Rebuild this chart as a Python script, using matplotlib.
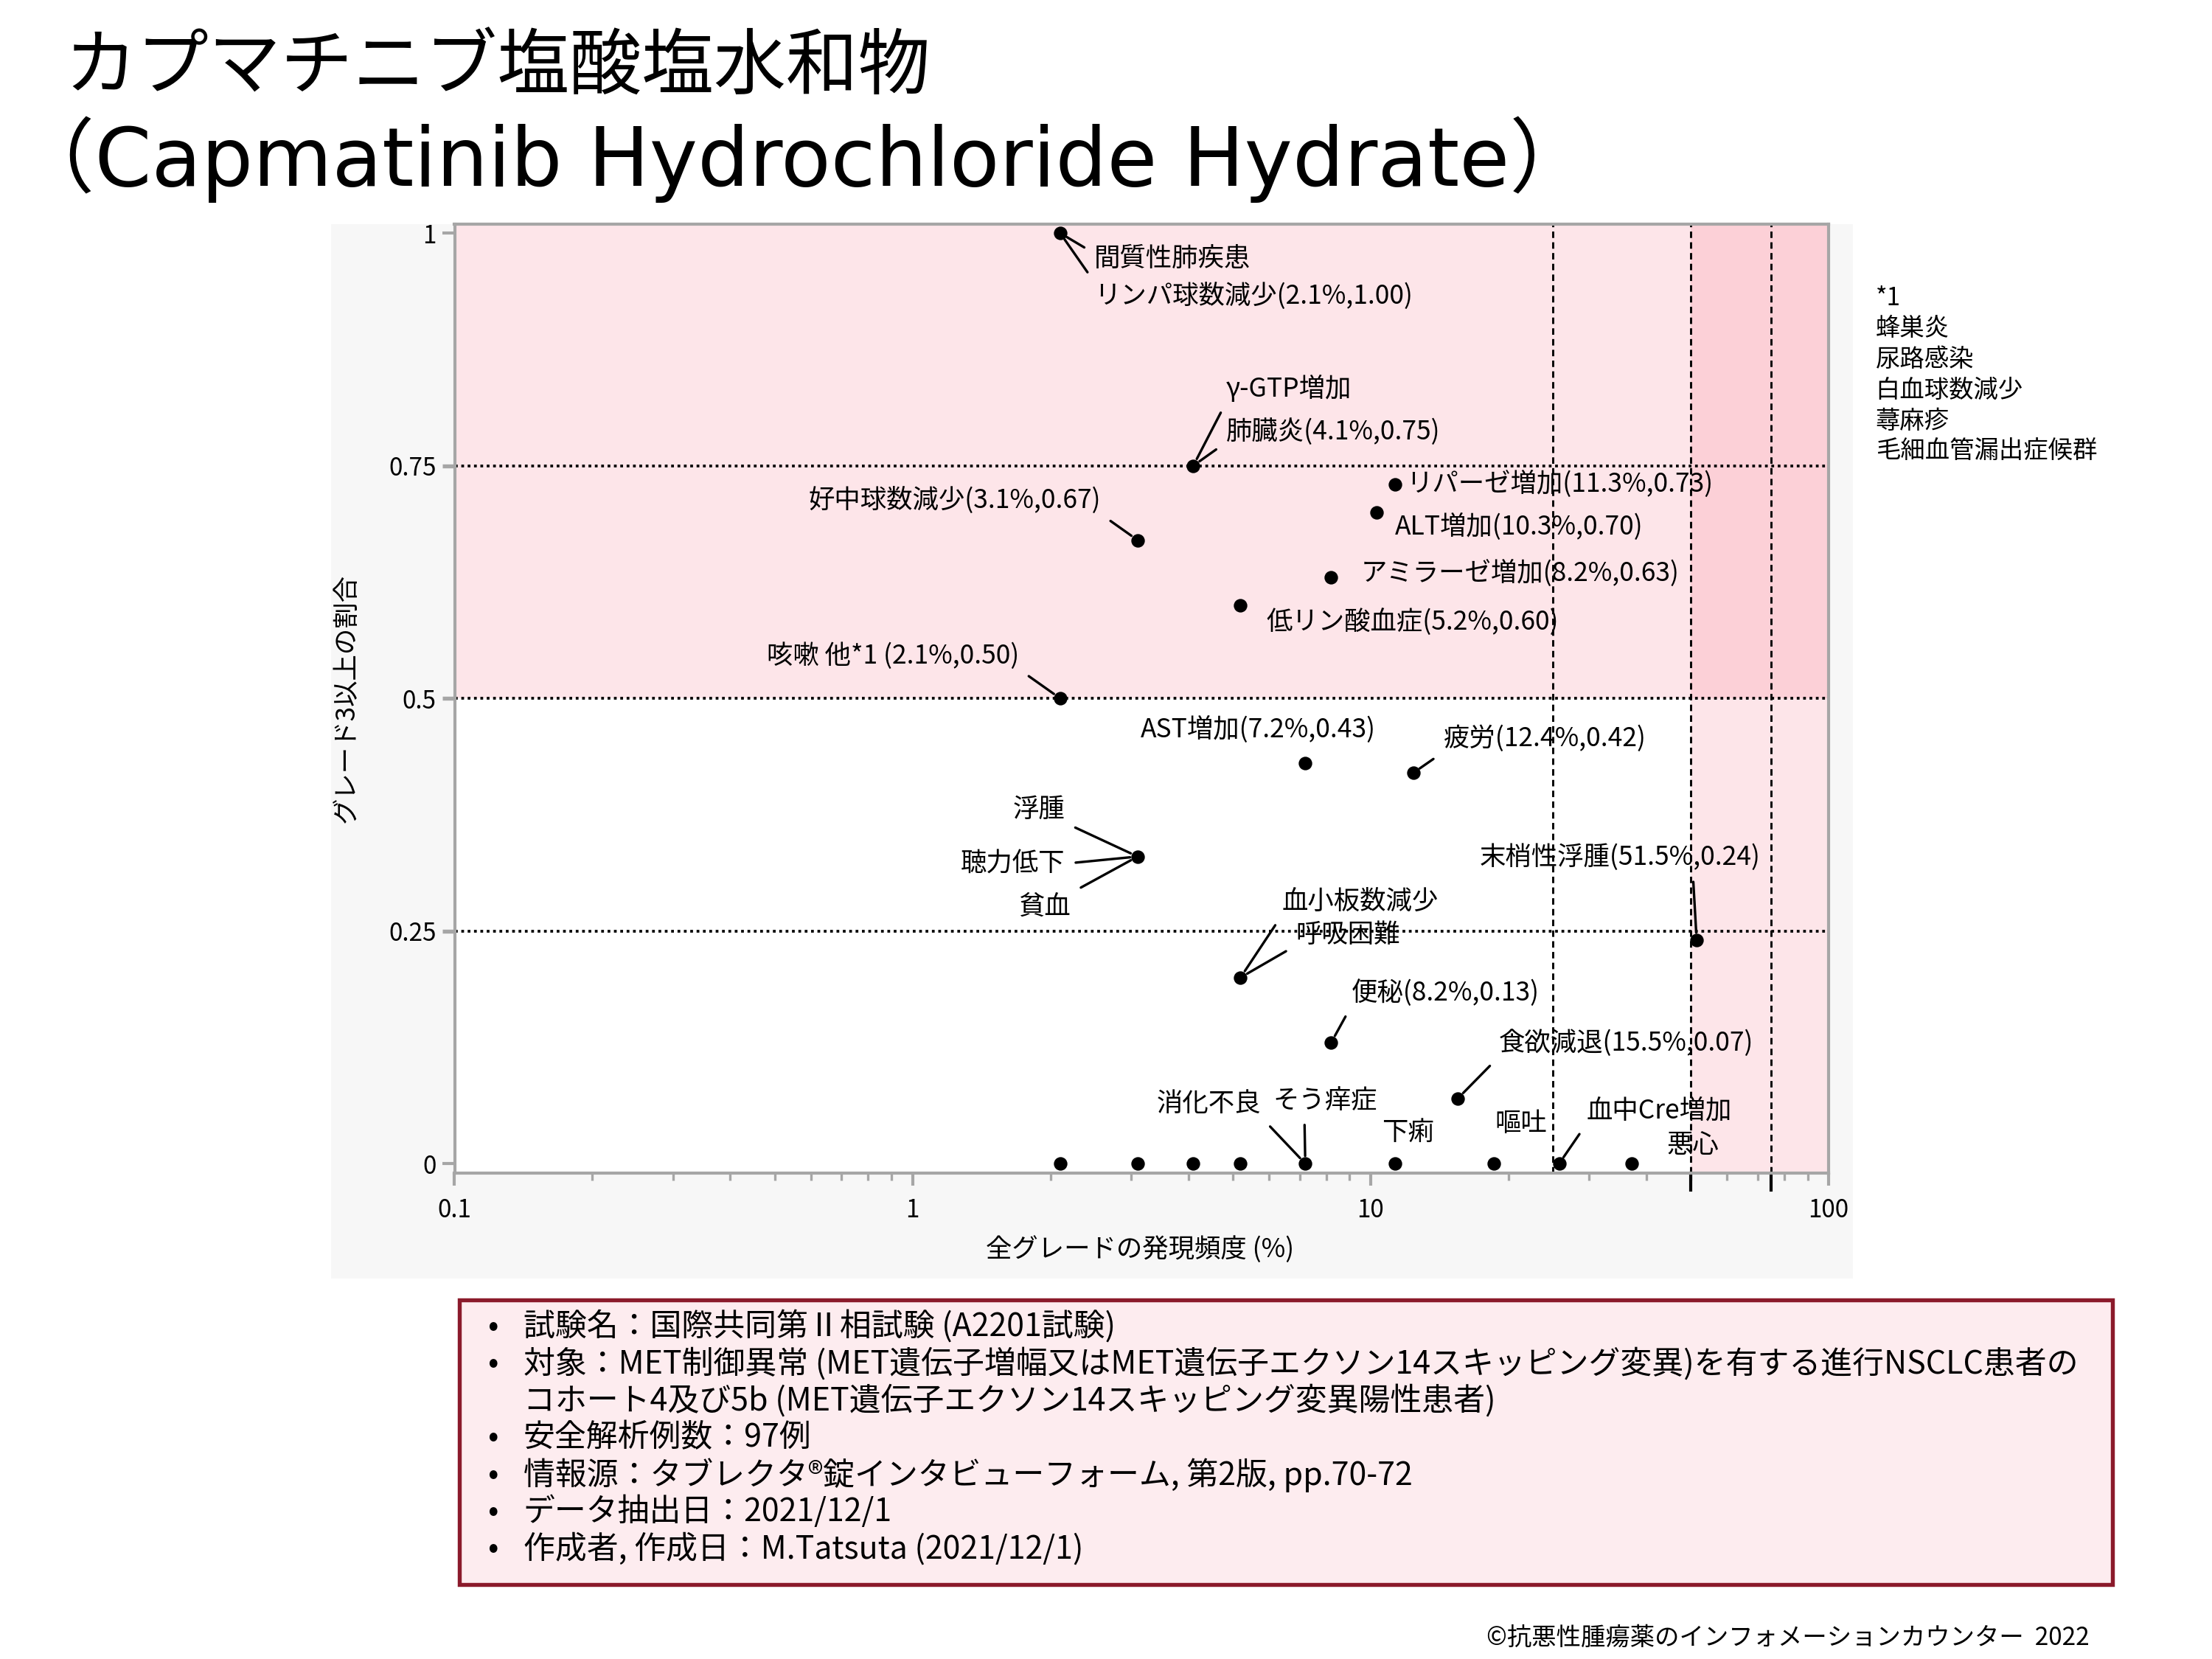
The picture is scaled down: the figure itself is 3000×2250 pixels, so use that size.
import numpy as np
import matplotlib
matplotlib.use("Agg")
import matplotlib.pyplot as plt
from matplotlib.patches import Rectangle
from matplotlib.ticker import FixedLocator, NullFormatter

plt.rcParams['font.family'] = ['Noto Sans CJK JP', 'DejaVu Sans']

# all-grade incidence (%) and share of grade>=3 for every plotted point
pct = [2.1, 4.1, 11.3, 10.3, 3.1, 8.2, 5.2, 2.1, 7.2, 12.4, 3.1, 51.5, 5.2, 8.2, 15.5,
       2.1, 3.1, 4.1, 5.2, 7.2, 11.3, 18.6, 25.8, 37.1]
ratio = [1.00, 0.75, 0.73, 0.70, 0.67, 0.63, 0.60, 0.50, 0.43, 0.42, 0.33, 0.24, 0.20, 0.13, 0.07,
         0, 0, 0, 0, 0, 0, 0, 0, 0]

# label text, point (pct, ratio), offset right/down in screen px, alignment, leader line anchor
labels = [
    ("間質性肺疾患", 2.1, 1.00, 24, 18, "left", (0, 0.7)),
    ("リンパ球数減少(2.1%,1.00)", 2.1, 1.00, 24, 44, "left", (0, 1)),
    ("γ-GTP増加", 4.1, 0.75, 23, -54, "left", (0, 0)),
    ("肺臓炎(4.1%,0.75)", 4.1, 0.75, 23, -24, "left", (0, 0.1)),
    ("リパーゼ増加(11.3%,0.73)", 11.3, 0.73, 8, 0, "left", None),
    ("ALT増加(10.3%,0.70)", 10.3, 0.70, 13, 10, "left", None),
    ("好中球数減少(3.1%,0.67)", 3.1, 0.67, -26, -28, "right", (1, 0)),
    ("アミラーゼ増加(8.2%,0.63)", 8.2, 0.63, 21, -3, "left", None),
    ("低リン酸血症(5.2%,0.60)", 5.2, 0.60, 18, 12, "left", None),
    ("咳嗽 他*1 (2.1%,0.50)", 2.1, 0.50, -29, -30, "right", (1, 0)),
    ("AST増加(7.2%,0.43)", 7.2, 0.43, -33, -24, "center", None),
    ("疲労(12.4%,0.42)", 12.4, 0.42, 21, -24, "left", (0, 0)),
    ("浮腫", 3.1, 0.33, -51, -33, "right", (1, 0)),
    ("聴力低下", 3.1, 0.33, -51, 5, "right", (1, 0.5)),
    ("貧血", 3.1, 0.33, -47, 35, "right", (1, 1)),
    ("末梢性浮腫(51.5%,0.24)", 51.5, 0.24, -54, -58, "center", (0.76, 0)),
    ("血小板数減少", 5.2, 0.20, 29, -53, "left", (0, 0)),
    ("呼吸困難", 5.2, 0.20, 39, -30, "left", (0, 0.1)),
    ("便秘(8.2%,0.13)", 8.2, 0.13, 14, -35, "left", (0, 0)),
    ("食欲減退(15.5%,0.07)", 15.5, 0.07, 29, -39, "left", (0, 0)),
    ("消化不良", 7.2, 0, -31, -42, "right", (1, 0)),
    ("そう痒症", 7.2, 0, 14, -44, "center", (0.3, 0)),
    ("下痢", 11.3, 0, 9, -22, "center", None),
    ("嘔吐", 18.6, 0, 19, -28, "center", None),
    ("血中Cre増加", 25.8, 0, 19, -37, "left", (0, 0)),
    ("悪心", 37.1, 0, 43, -13, "center", None),
]

note_lines = ["*1", "蜂巣炎", "尿路感染", "白血球数減少", "蕁麻疹", "毛細血管漏出症候群"]

info_lines = [
    "試験名：国際共同第Ⅱ相試験 (A2201試験)",
    "対象：MET制御異常 (MET遺伝子増幅又はMET遺伝子エクソン14スキッピング変異)を有する進行NSCLC患者の",
    "コホート4及び5b (MET遺伝子エクソン14スキッピング変異陽性患者)",
    "安全解析例数：97例",
    "情報源：タブレクタ®錠インタビューフォーム, 第2版, pp.70-72",
    "データ抽出日：2021/12/1",
    "作成者, 作成日：M.Tatsuta (2021/12/1)",
]
info_bullets = [True, True, False, True, True, True, True]

x_refs = [25, 50, 75]
y_refs = [0.25, 0.5, 0.75]

PX = (3000 / 1552) * 72 / 300  # screen px of the reference -> points

fig = plt.figure(figsize=(10, 7.5), dpi=300)
fig.patches.append(Rectangle((0.1495, 0.2294), 0.6881, 0.6357, transform=fig.transFigure,
                             facecolor='#f7f7f7', edgecolor='none', zorder=-5))

ax = fig.add_axes([0.2055, 0.2930, 0.6212, 0.5721])
ax.set_xscale('log')
ax.set_xlim(0.1, 100)
ylo, yhi = -0.01, 1.01
ax.set_ylim(ylo, yhi)

light = '#fde5e9'
dark = '#fcd0d7'
ax.axhspan(0.5, yhi, color=light, zorder=0, lw=0)
ax.axvspan(50, 100, color=light, zorder=0, lw=0)
ax.axvspan(50, 100, ymin=(0.5 - ylo) / (yhi - ylo), ymax=1, color=dark, zorder=0.5, lw=0)

for v in y_refs:
    ax.axhline(v, color='black', lw=0.9, ls=(0, (1, 1.3)), zorder=1)
for v in x_refs:
    ax.axvline(v, color='black', lw=0.7, ls=(0, (3, 2)), zorder=1)
for v in x_refs[1:]:
    ax.plot([v, v], [-0.018, 0], transform=ax.get_xaxis_transform(), clip_on=False,
            color='black', lw=1.0)

ax.plot(pct, ratio, 'o', color='black', markersize=3.4, zorder=3, clip_on=False)

for text, x, y, dx, dy, ha, rel in labels:
    kw = {}
    if rel is not None:
        kw['arrowprops'] = dict(arrowstyle='-', color='black', lw=0.8, shrinkA=1.5, shrinkB=2.5,
                                relpos=rel)
    ax.annotate(text, xy=(x, y), xytext=(dx * PX, -dy * PX), textcoords='offset points',
                ha=ha, va='center', fontsize=8.5, zorder=4, **kw)

for s in ax.spines.values():
    s.set_color('#a6a6a6')
    s.set_linewidth(1.0)

ax.set_xticks([0.1, 1, 10, 100])
ax.set_xticklabels(['0.1', '1', '10', '100'])
ax.xaxis.set_minor_locator(FixedLocator([m * 10.0 ** e for e in (-1, 0, 1) for m in range(2, 10)]))
ax.xaxis.set_minor_formatter(NullFormatter())
ax.set_yticks([0, 0.25, 0.5, 0.75, 1])
ax.set_yticklabels(['0', '0.25', '0.5', '0.75', '1'])
ax.tick_params(axis='x', which='major', length=4, width=1, color='#a6a6a6', pad=4, labelsize=8)
ax.tick_params(axis='x', which='minor', length=2.5, width=0.8, color='#a6a6a6')
ax.tick_params(axis='y', length=4, width=1, color='#a6a6a6', pad=2, labelsize=8)
for t, v in zip(ax.yaxis.get_major_ticks(), [0, 0.25, 0.5, 0.75, 1]):
    if v in y_refs:
        t.tick1line.set_color('black')
        t.tick1line.set_markeredgewidth(1.3)

ax.set_xlabel('全グレードの発現頻度 (%)', fontsize=8.5)
ax.set_ylabel('グレード3以上の割合', fontsize=8.5)
ax.xaxis.set_label_coords(0.499, -0.066)
ax.yaxis.set_label_coords(-0.069, 0.5)

fig.text(0.029, 0.9588, 'カプマチニブ塩酸塩水和物', fontsize=23.5, va='center', ha='left')
fig.text(0.006, 0.9038, '（Capmatinib Hydrochloride Hydrate）', fontsize=26.5,
         va='center', ha='left', family=['DejaVu Sans', 'Noto Sans CJK JP'])

fig.text(0.8479, 0.8282, '\n'.join(note_lines), fontsize=8, va='top', ha='left', linespacing=1.25)

fig.patches.append(Rectangle((0.2075, 0.0447), 0.7474, 0.1718, transform=fig.transFigure,
                             facecolor='#fdecef', edgecolor='#8b1a2b', lw=1.3, zorder=-4))
row_y = 0.2002
for line, bullet in zip(info_lines, info_bullets):
    if bullet:
        fig.text(0.2204, row_y, '•', fontsize=10.3, va='center', ha='left')
    fig.text(0.2365, row_y, line, fontsize=10.3, va='center', ha='left')
    row_y -= 0.02233

fig.text(0.9446, 0.0129, '©抗悪性腫瘍薬のインフォメーションカウンター  2022', fontsize=8,
         va='center', ha='right')

fig.savefig('out.png', dpi=300, facecolor='white')
